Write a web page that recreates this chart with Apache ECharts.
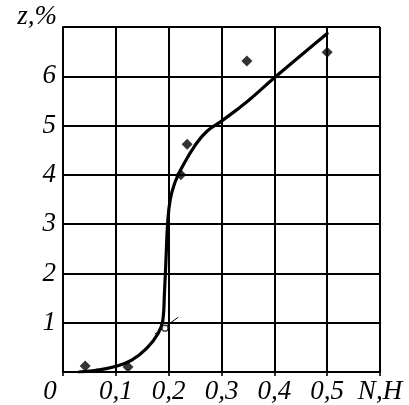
<!DOCTYPE html>
<html>
<head>
<meta charset="utf-8">
<script src="https://cdn.jsdelivr.net/npm/echarts@6/dist/echarts.min.js"></script>
<style>
  html, body { margin: 0; padding: 0; background: #fff; }
  #chart { width: 409px; height: 405px; }
</style>
</head>
<body>
<div id="chart"></div>
<script>
// Tick labels
const xTickLabels = ['0', '0,1', '0,2', '0,3', '0,4', '0,5', 'N,H'];
const yTickLabels = ['', '1', '2', '3', '4', '5', '6', ''];

// Fitted curve z(N)
const curveN = [0.030, 0.060, 0.095, 0.130, 0.160, 0.180, 0.189, 0.192, 0.195, 0.198, 0.203, 0.212, 0.225, 0.250, 0.272, 0.300, 0.350, 0.400, 0.500];
const curveZ = [0.00, 0.03, 0.10, 0.24, 0.50, 0.78, 1.05, 1.60, 2.30, 3.00, 3.50, 3.85, 4.15, 4.60, 4.88, 5.09, 5.50, 5.97, 6.87];

// Measured points
const pointN = [0.042, 0.123, 0.223, 0.235, 0.348, 0.500];
const pointZ = [0.12, 0.10, 4.00, 4.62, 6.31, 6.49];

// Inflection marker and tangent stroke
const markerN = [0.193];
const markerZ = [0.89];
const tangentN = [0.174, 0.218];
const tangentZ = [0.77, 1.11];

const zip = (a, b) => a.map((v, i) => [v, b[i]]);
const ink = '#000';
const font = 'Liberation Serif';
const labelFont = { color: ink, fontFamily: font, fontStyle: 'italic', fontSize: 27 };

const chart = echarts.init(document.getElementById('chart'), null, { renderer: 'canvas' });
chart.setOption({
  backgroundColor: '#fff',
  animation: false,
  grid: { left: 63, right: 29, top: 27, bottom: 31, containLabel: false },
  xAxis: {
    type: 'value', min: 0, max: 0.6, interval: 0.1,
    axisLine: { show: true, lineStyle: { color: ink, width: 2 } },
    axisTick: { show: true, length: 4, lineStyle: { color: ink, width: 1.6 } },
    splitLine: { show: true, lineStyle: { color: ink, width: 2 } },
    axisLabel: Object.assign({
      margin: 6,
      formatter: v => {
        const i = Math.round(v * 10);
        return i === 0 ? '{zero|' + xTickLabels[0] + '}' : xTickLabels[i];
      },
      rich: { zero: Object.assign({ padding: [0, 26, 0, 0] }, labelFont) }
    }, labelFont)
  },
  yAxis: {
    type: 'value', min: 0, max: 7, interval: 1,
    name: 'z,%', nameLocation: 'end', nameGap: -3,
    nameTextStyle: Object.assign({ align: 'right', verticalAlign: 'bottom', padding: [0, 6, 0, 0] }, labelFont),
    axisLine: { show: true, lineStyle: { color: ink, width: 2 } },
    axisTick: { show: false },
    splitLine: { show: true, lineStyle: { color: ink, width: 2 } },
    axisLabel: Object.assign({
      margin: 7,
      formatter: v => yTickLabels[Math.round(v)]
    }, labelFont)
  },
  series: [
    {
      type: 'line', data: zip(tangentN, tangentZ), symbol: 'none',
      lineStyle: { color: ink, width: 1 }, z: 3
    },
    {
      type: 'line', data: zip(curveN, curveZ), smooth: 0.45, symbol: 'none',
      lineStyle: { color: ink, width: 3.2, cap: 'round', join: 'round' }, z: 4
    },
    {
      type: 'scatter', data: zip(pointN, pointZ), symbol: 'diamond', symbolSize: [11, 11],
      itemStyle: { color: ink }, z: 5
    },
    {
      type: 'scatter', data: zip(markerN, markerZ), symbol: 'circle', symbolSize: 6,
      itemStyle: { color: '#fff', borderColor: ink, borderWidth: 1.2 }, z: 6
    }
  ]
});
</script>
</body>
</html>
